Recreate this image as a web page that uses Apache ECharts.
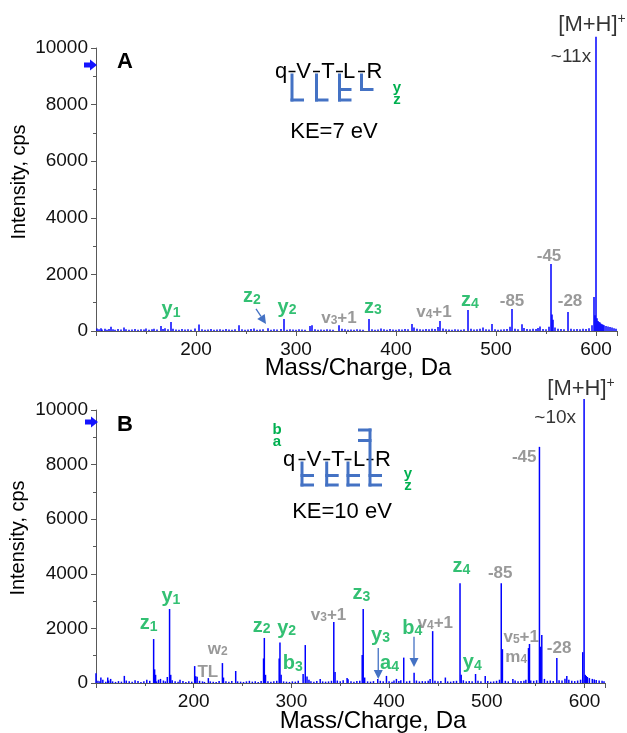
<!DOCTYPE html>
<html>
<head>
<meta charset="utf-8">
<script src="https://cdn.jsdelivr.net/npm/echarts@6/dist/echarts.min.js"></script>
<style>
  html, body { margin: 0; padding: 0; background: #ffffff; }
  #chart { width: 627px; height: 733px; }
</style>
</head>
<body>
<div id="chart"></div>
<script>
// ---------- spectrum data: [m/z, intensity (cps)] ----------
const massTicks = [200, 300, 400, 500, 600];
const intensityTicks = [0, 2000, 4000, 6000, 8000, 10000];

// Panel A (KE = 7 eV): assigned / prominent peaks
const peaksA = [
  [105, 100], [115, 150], [128, 120], [165, 180], [175, 320], [203, 230], [243, 200],
  [272, 100], [288, 420], [314, 180], [316, 200], [343, 200], [373, 420], [416, 250],
  [444, 350], [472, 740], [496, 250], [516, 780], [526, 240], [544, 160], [555, 2370],
  [556, 580], [557, 400], [572, 670], [598, 1200], [599, 560], [600, 10400], [601, 450],
  [602, 350], [603, 320], [604, 300], [605, 260], [606, 240], [607, 220], [608, 200]
];
// Panel A: low-level baseline peaks
const noiseA = [
  [101, 90], [103, 60], [106, 50], [109, 80], [111, 40], [113, 70], [117, 60], [119, 40],
  [122, 70], [125, 50], [130, 60], [133, 40], [136, 50], [139, 70], [142, 40], [145, 60],
  [148, 50], [150, 90], [153, 40], [156, 60], [158, 80], [161, 50], [167, 70], [169, 100],
  [172, 60], [177, 80], [180, 50], [183, 40], [186, 70], [189, 50], [192, 60], [195, 40],
  [199, 90], [206, 60], [209, 40], [212, 50], [215, 70], [218, 40], [221, 50], [224, 60],
  [227, 40], [230, 70], [233, 50], [236, 40], [239, 60], [246, 60], [249, 40], [252, 50],
  [255, 70], [258, 90], [261, 40], [264, 50], [267, 60], [275, 40], [278, 60], [281, 50],
  [285, 70], [291, 40], [294, 60], [297, 50], [300, 40], [303, 60], [306, 50], [309, 40],
  [319, 60], [322, 40], [325, 50], [328, 40], [331, 60], [334, 50], [337, 40], [346, 80],
  [349, 60], [352, 40], [355, 50], [358, 40], [361, 60], [364, 50], [367, 40], [376, 60],
  [379, 40], [382, 50], [385, 90], [388, 60], [391, 40], [394, 70], [397, 50], [400, 40],
  [403, 60], [406, 50], [409, 70], [412, 60], [418, 120], [421, 80], [424, 60], [427, 50],
  [430, 70], [433, 60], [436, 80], [439, 70], [442, 140], [447, 90], [450, 60], [453, 50],
  [456, 40], [459, 60], [462, 50], [465, 40], [468, 60], [475, 80], [478, 50], [481, 60],
  [484, 80], [487, 120], [490, 60], [493, 50], [499, 60], [502, 40], [505, 50], [508, 60],
  [511, 70], [514, 150], [519, 80], [522, 60], [528, 110], [531, 70], [534, 60], [537, 80],
  [540, 70], [542, 110], [547, 70], [550, 60], [553, 150], [559, 120], [562, 80], [565, 70],
  [568, 60], [575, 80], [578, 60], [581, 70], [584, 60], [587, 80], [590, 70], [593, 100],
  [596, 200], [610, 180], [612, 160], [614, 140], [616, 120], [618, 100], [620, 80]
];

// Panel B (KE = 10 eV): assigned / prominent peaks
const peaksB = [
  [100, 360], [105, 200], [112, 200], [115, 150], [129, 260], [140, 100], [152, 120],
  [159, 1610], [160, 500], [161, 300], [166, 150], [173, 220], [175.3, 2710], [176.5, 300],
  [186, 120], [201, 620], [202, 250], [203.5, 230], [215, 180], [229.4, 730], [230.5, 200],
  [243, 440], [271.5, 900], [272.3, 1650], [273.5, 300], [287.5, 900], [288.3, 1480],
  [289.5, 300], [312, 330], [314.2, 1390], [316, 240], [329.5, 150], [343.4, 2230],
  [344.7, 400], [357, 180], [372.5, 1030], [373.5, 2710], [375, 200], [388.4, 150],
  [397.3, 260], [407.5, 150], [415, 930], [425.6, 380], [444.6, 1900], [457.6, 200],
  [472.6, 3650], [473.8, 300], [488.5, 330], [498.4, 260], [514.8, 3650], [516, 1240],
  [526.7, 150], [542.7, 1280], [543.7, 1430], [553.9, 8650], [555, 1330], [556.3, 1760],
  [571.7, 915], [581.9, 260], [598.2, 1130], [599.6, 10400], [600.8, 300], [601.8, 260],
  [603, 220]
];
// Panel B: low-level baseline peaks
const noiseB = [
  [102, 80], [104, 60], [107, 120], [110, 50], [113, 90], [117, 60], [120, 40], [123, 70],
  [126, 50], [131, 90], [134, 60], [137, 50], [143, 70], [146, 40], [149, 60], [155, 80],
  [162, 60], [164, 120], [169, 90], [171, 60], [178, 100], [181, 60], [184, 50], [189, 70],
  [192, 40], [195, 60], [198, 50], [206, 80], [209, 60], [211, 40], [217, 60], [220, 50],
  [223, 40], [226, 70], [233, 60], [236, 50], [239, 70], [245, 60], [248, 50], [251, 40],
  [254, 60], [257, 80], [260, 50], [263, 60], [266, 40], [269, 70], [276, 60], [279, 50],
  [282, 60], [285, 80], [292, 60], [295, 50], [298, 40], [301, 60], [304, 50], [307, 80],
  [318, 120], [320, 60], [323, 50], [326, 70], [332, 60], [335, 50], [338, 60], [341, 80],
  [347, 90], [350, 60], [353, 100], [358, 140], [361, 60], [364, 50], [367, 70], [370, 80],
  [378, 60], [381, 50], [384, 70], [391, 80], [394, 60], [400, 60], [403, 50], [405, 90],
  [410, 70], [412, 100], [418, 60], [421, 80], [428, 90], [431, 60], [434, 70], [437, 60],
  [440, 80], [442, 150], [447, 80], [450, 60], [453, 70], [460, 60], [463, 50], [466, 70],
  [469, 80], [476, 100], [479, 60], [482, 70], [485, 60], [491, 80], [494, 60], [501, 70],
  [504, 50], [507, 60], [510, 80], [513, 120], [519, 80], [522, 60], [529, 90], [532, 60],
  [535, 70], [538, 80], [540, 120], [545, 90], [548, 80], [551, 100], [559, 150], [562, 80],
  [565, 90], [568, 70], [574, 100], [577, 90], [580, 160], [584, 120], [587, 80], [590, 70],
  [593, 90], [596, 120], [605, 180], [608, 150], [610, 130], [612, 110], [615, 90],
  [618, 80], [620, 60]
];

// ---------- peak annotations: [text, subscript, suffix, m/z, intensity, kind] ----------
const labelsA = [
  ['y', '1', '', 175, 780, 'ion'],
  ['z', '2', '', 256, 1240, 'ion'],
  ['y', '2', '', 291, 880, 'ion'],
  ['v', '3', '+1', 343, 530, 'loss'],
  ['z', '3', '', 377, 880, 'ion'],
  ['v', '4', '+1', 438, 740, 'loss'],
  ['z', '4', '', 474, 1100, 'ion'],
  ['-85', '', '', 516, 1130, 'loss'],
  ['-45', '', '', 553, 2720, 'loss'],
  ['-28', '', '', 574, 1130, 'loss'],
  ['[M+H]', '', '+', 596, 10850, 'prec'],
  ['~11x', '', '', 575, 9680, 'plain']
];
const labelsB = [
  ['z', '1', '', 154, 2200, 'ion'],
  ['y', '1', '', 176.6, 3190, 'ion'],
  ['w', '2', '', 224.6, 1320, 'loss'],
  ['TL', '', '', 214.4, 480, 'loss'],
  ['z', '2', '', 269.6, 2125, 'ion'],
  ['y', '2', '', 295.1, 2050, 'ion'],
  ['b', '3', '', 301.3, 735, 'ion'],
  ['v', '3', '+1', 338, 2565, 'loss'],
  ['z', '3', '', 371.7, 3300, 'ion'],
  ['y', '3', '', 391.2, 1795, 'ion'],
  ['a', '4', '', 400.4, 735, 'ion'],
  ['b', '4', '', 423.8, 2050, 'ion'],
  ['v', '4', '+1', 447.3, 2270, 'loss'],
  ['z', '4', '', 473.9, 4290, 'ion'],
  ['-85', '', '', 513.7, 4100, 'loss'],
  ['y', '4', '', 485.1, 770, 'ion'],
  ['v', '5', '+1', 535.2, 1760, 'loss'],
  ['m', '4', '', 530.1, 1030, 'loss'],
  ['-28', '', '', 574, 1355, 'loss'],
  ['-45', '', '', 538.3, 8350, 'loss'],
  ['[M+H]', '', '+', 596.5, 10800, 'prec'],
  ['~10x', '', '', 570, 9710, 'plain']
];

// pointer arrows: [from m/z, from intensity, to m/z, to intensity]
const arrowsA = [[260, 780, 270, 250]];
const arrowsB = [[388.9, 1280, 388.9, 150], [425.5, 1690, 425.5, 590]];

// sequence and observed fragment types at each cleavage site
const residues = ['q', 'V', 'T', 'L', 'R'];
const cTermA = [['z'], ['z'], ['y', 'z'], ['y']];
const nTermA = [[], [], [], []];
const cTermB = [['y', 'z'], ['y', 'z'], ['y', 'z'], ['y', 'z']];
const nTermB = [[], [], [], ['b', 'a']];

// ---------- styling ----------
const FONT = "'Liberation Sans', Arial, Helvetica, sans-serif";
const BLUE = '#0000ff';
const GREEN = '#00b050';
const GRAY = '#7f7f7f';
const BRACKET = '#4472c4';
const AXIS = '#595959';

const chart = echarts.init(document.getElementById('chart'), null, { renderer: 'canvas' });

function spectrumItem(params, api) {
  const top = api.coord([api.value(0), api.value(1)]);
  const base = api.coord([api.value(0), 0]);
  return {
    type: 'line',
    shape: { x1: top[0], y1: top[1], x2: base[0], y2: base[1] },
    style: { stroke: BLUE, lineWidth: 1.5 }
  };
}

function arrowItem(params, api) {
  const p1 = api.coord([api.value(0), api.value(1)]);
  const p2 = api.coord([api.value(2), api.value(3)]);
  const dx = p2[0] - p1[0], dy = p2[1] - p1[1];
  const len = Math.hypot(dx, dy) || 1;
  const ux = dx / len, uy = dy / len;
  const hl = 9, hw = 4.5;
  const bx = p2[0] - ux * hl, by = p2[1] - uy * hl;
  return {
    type: 'group',
    children: [
      { type: 'line', shape: { x1: p1[0], y1: p1[1], x2: bx, y2: by },
        style: { stroke: BRACKET, lineWidth: 1.3 } },
      { type: 'polygon',
        shape: { points: [[p2[0], p2[1]], [bx - uy * hw, by + ux * hw], [bx + uy * hw, by - ux * hw]] },
        style: { fill: BRACKET } }
    ]
  };
}

function labelText(item) {
  const [main, sub, post, , , kind] = item;
  if (kind === 'ion') return '{m|' + main + '}{s|' + sub + '}' + (post ? '{m|' + post + '}' : '');
  if (kind === 'loss') return sub ? '{g|' + main + '}{gs|' + sub + '}' + (post ? '{g|' + post + '}' : '') : '{g|' + main + '}';
  if (kind === 'prec') return '{k|' + main + '}{ks|' + post + '}';
  return '{p|' + main + '}';
}

const richStyles = {
  m: { fontFamily: FONT, fontSize: 20, fontWeight: 'bold', color: GREEN, lineHeight: 22, verticalAlign: 'bottom' },
  s: { fontFamily: FONT, fontSize: 14, fontWeight: 'bold', color: GREEN, lineHeight: 8, verticalAlign: 'bottom' },
  g: { fontFamily: FONT, fontSize: 17, fontWeight: 'bold', color: GRAY, lineHeight: 22, verticalAlign: 'bottom' },
  gs: { fontFamily: FONT, fontSize: 12, fontWeight: 'bold', color: GRAY, lineHeight: 8, verticalAlign: 'bottom' },
  k: { fontFamily: FONT, fontSize: 22, color: '#000', lineHeight: 24, verticalAlign: 'bottom' },
  ks: { fontFamily: FONT, fontSize: 14, color: '#000', lineHeight: 8, verticalAlign: 'top' },
  p: { fontFamily: FONT, fontSize: 19, color: '#000', lineHeight: 22 }
};

function labelSeries(idx, items) {
  return {
    type: 'scatter', xAxisIndex: idx, yAxisIndex: idx, clip: false, silent: true,
    symbolSize: 0, z: 5,
    data: items.map(function (it) { return { value: [it[3], it[4]], txt: labelText(it) }; }),
    label: {
      show: true, position: 'inside',
      formatter: function (p) { return p.data.txt; },
      rich: richStyles
    }
  };
}

function xAxisFor(idx) {
  return {
    gridIndex: idx, type: 'value', min: 100, max: 621, interval: 100,
    axisLine: { show: true, onZero: false, lineStyle: { color: AXIS, width: 1 } },
    axisTick: { show: true, length: 5, lineStyle: { color: AXIS } },
    minorTick: { show: true, splitNumber: 2, length: 3, lineStyle: { color: AXIS } },
    splitLine: { show: false },
    axisLabel: {
      fontFamily: FONT, fontSize: 19, color: '#111', margin: 9,
      formatter: function (v) { return massTicks.indexOf(v) >= 0 ? String(v) : ''; }
    }
  };
}

function yAxisFor(idx) {
  return {
    gridIndex: idx, type: 'value', min: 0, max: 10000, interval: 2000,
    axisLine: { show: true, lineStyle: { color: AXIS, width: 1 } },
    axisTick: { show: true, length: 5, lineStyle: { color: AXIS } },
    minorTick: { show: true, splitNumber: 2, length: 3, lineStyle: { color: AXIS } },
    splitLine: { show: false },
    axisLabel: {
      fontFamily: FONT, fontSize: 19, color: '#111', margin: 8,
      formatter: function (v) { return intensityTicks.indexOf(v) >= 0 ? String(v) : ''; }
    }
  };
}

// ---------- decorations: sequence maps, panel letters, titles ----------
function sequenceGraphics(cfg) {
  const els = [];
  residues.forEach(function (r, i) {
    els.push({ type: 'text', x: cfg.letters[i], y: cfg.y, z: 10,
      style: { text: r, font: '22px ' + FONT, fill: '#000', align: 'center', verticalAlign: 'middle' } });
  });
  const dashY = cfg.y - 0.5;
  cfg.cuts.forEach(function (cx, i) {
    els.push({ type: 'line', z: 10, shape: { x1: cx - 3.5, y1: dashY, x2: cx + 3.5, y2: dashY },
      style: { stroke: '#000', lineWidth: 1.5 } });
    const cs = cfg.cTerm[i];
    const ns = cfg.nTerm[i];
    let bottom = dashY + 2, top = dashY + 2;
    cs.forEach(function (t) {
      const ly = t === 'y' ? cfg.yLine : cfg.zLine;
      bottom = Math.max(bottom, ly);
      els.push({ type: 'line', z: 10, shape: { x1: cx - 1.5, y1: ly, x2: cx + 12, y2: ly },
        style: { stroke: BRACKET, lineWidth: 3 } });
    });
    ns.forEach(function (t) {
      const ly = t === 'b' ? cfg.bLine : cfg.aLine;
      top = Math.min(top, ly - 1.5);
      els.push({ type: 'line', z: 10, shape: { x1: cx + 1.5, y1: ly, x2: cx - 12, y2: ly },
        style: { stroke: BRACKET, lineWidth: 3 } });
    });
    els.push({ type: 'line', z: 10, shape: { x1: cx, y1: top, x2: cx, y2: bottom + 1.5 },
      style: { stroke: BRACKET, lineWidth: 3 } });
  });
  cfg.keys.forEach(function (k) {
    els.push({ type: 'text', x: k[1], y: k[2], z: 10,
      style: { text: k[0], font: 'bold 15px ' + FONT, fill: GREEN, align: 'center', verticalAlign: 'middle' } });
  });
  els.push({ type: 'text', x: cfg.ke[1], y: cfg.ke[2], z: 10,
    style: { text: cfg.ke[0], font: '22px ' + FONT, fill: '#000', align: 'center', verticalAlign: 'middle' } });
  return els;
}

function axisMarker(cx, cy) {
  const pts = [[-6, -2.5], [0, -2.5], [0, -5.5], [7, 0], [0, 5.5], [0, 2.5], [-6, 2.5]]
    .map(function (p) { return [cx + p[0], cy + p[1]]; });
  return { type: 'polygon', z: 10, shape: { points: pts }, style: { fill: '#1414ff' } };
}

function textEl(t, x, y, font, rot) {
  return { type: 'text', x: x, y: y, rotation: rot || 0, z: 10,
    style: { text: t, font: font, fill: '#000', align: 'center', verticalAlign: 'middle' } };
}

const graphics = []
  .concat(sequenceGraphics({
    letters: [281, 303.5, 328, 349, 374.5], cuts: [292, 316.5, 339.5, 361.5], y: 72,
    yLine: 89.5, zLine: 100, bLine: 0, aLine: 0, cTerm: cTermA, nTerm: nTermA,
    keys: [['y', 397, 88], ['z', 397, 100]], ke: ['KE=7 eV', 334, 132]
  }))
  .concat(sequenceGraphics({
    letters: [289, 314, 338, 359, 383], cuts: [302, 326.7, 348, 370], y: 460,
    yLine: 475.5, zLine: 485, bLine: 430, aLine: 440.5, cTerm: cTermB, nTerm: nTermB,
    keys: [['y', 408, 474], ['z', 408, 486], ['b', 277, 430], ['a', 277, 442]], ke: ['KE=10 eV', 342, 512]
  }))
  .concat([
    axisMarker(90, 65), axisMarker(91, 422),
    textEl('A', 125, 62, 'bold 22px ' + FONT),
    textEl('B', 125, 425, 'bold 22px ' + FONT),
    textEl('Intensity, cps', 19, 182, '20px ' + FONT, Math.PI / 2),
    textEl('Intensity, cps', 18, 538, '20px ' + FONT, Math.PI / 2),
    textEl('Mass/Charge, Da', 358, 368, '24px ' + FONT),
    textEl('Mass/Charge, Da', 373, 721, '24px ' + FONT)
  ]);

const option = {
  animation: false,
  backgroundColor: '#ffffff',
  grid: [
    { left: 96, right: 10, top: 48, bottom: 402 },
    { left: 96, right: 22, top: 410, bottom: 50 }
  ],
  xAxis: [xAxisFor(0), xAxisFor(1)],
  yAxis: [yAxisFor(0), yAxisFor(1)],
  series: [
    { type: 'custom', xAxisIndex: 0, yAxisIndex: 0, clip: false, silent: true,
      renderItem: spectrumItem, data: noiseA.concat(peaksA) },
    { type: 'custom', xAxisIndex: 1, yAxisIndex: 1, clip: false, silent: true,
      renderItem: spectrumItem, data: noiseB.concat(peaksB) },
    labelSeries(0, labelsA),
    labelSeries(1, labelsB),
    { type: 'custom', xAxisIndex: 0, yAxisIndex: 0, clip: false, silent: true, z: 6,
      dimensions: ['x1', 'y1', 'x2', 'y2'], encode: { x: [0, 2], y: [1, 3] },
      renderItem: arrowItem, data: arrowsA },
    { type: 'custom', xAxisIndex: 1, yAxisIndex: 1, clip: false, silent: true, z: 6,
      dimensions: ['x1', 'y1', 'x2', 'y2'], encode: { x: [0, 2], y: [1, 3] },
      renderItem: arrowItem, data: arrowsB }
  ],
  graphic: graphics
};

chart.setOption(option);
</script>
</body>
</html>
